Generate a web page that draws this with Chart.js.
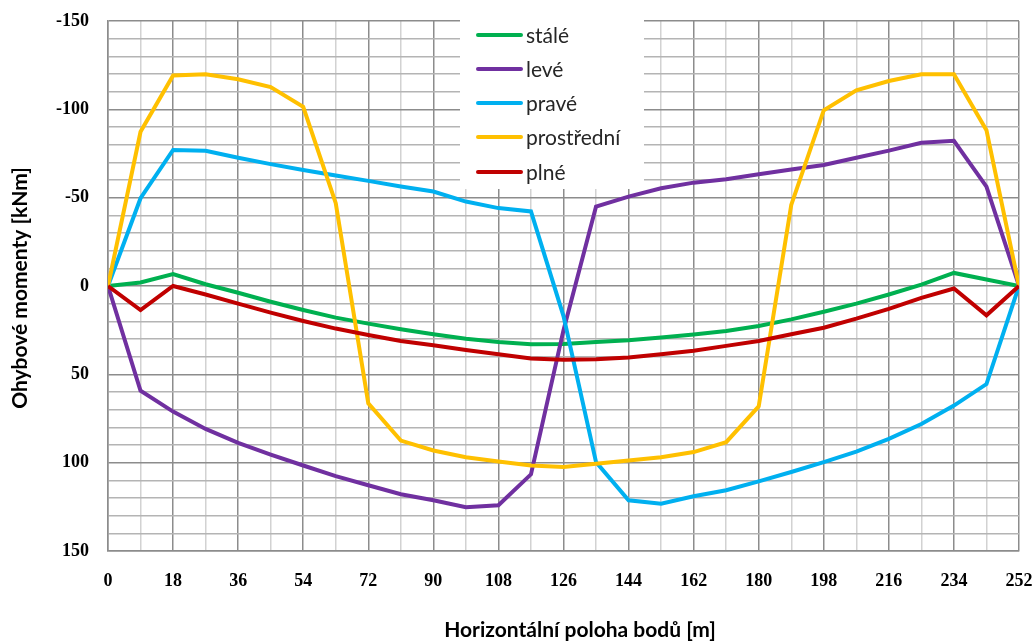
<!DOCTYPE html>
<html>
<head>
<meta charset="utf-8">
<script src="https://cdn.jsdelivr.net/npm/chart.js@4/dist/chart.umd.min.js"></script>
<style>
  html, body { margin: 0; padding: 0; background: #fff; }
  #wrap { width: 1034px; height: 641px; }
</style>
</head>
<body>
<div id="wrap"><canvas id="c" width="1034" height="641"></canvas></div>
<script>
// Horizontal position of evaluation points [m]
const positions = [0, 9, 18, 27, 36, 45, 54, 63, 72, 81, 90, 99, 108, 117, 126,
  135, 144, 153, 162, 171, 180, 189, 198, 207, 216, 225, 234, 243, 252];

// Bending moments [kNm] per load case
const stale = [0, -2, -6.7, -1, 3.8, 8.9, 13.6, 17.9, 21.3, 24.5, 27.3, 29.8, 31.7, 33, 32.8,
  31.7, 30.7, 29.2, 27.5, 25.5, 22.6, 18.9, 14.6, 10, 4.8, -0.8, -7.4, -3.7, 0];
const leve = [0, 59.3, 71.1, 80.9, 88.8, 95.4, 101.6, 107.6, 112.8, 117.9, 121.3, 125.2, 124.1, 106.6, 25,
  -45, -50.6, -55.3, -58.5, -60.4, -63.2, -66, -68.5, -72.6, -76.6, -81.1, -82.2, -56.3, 0];
const prave = [0, -49.7, -77, -76.6, -72.6, -69, -65.7, -62.5, -59.5, -56.3, -53.5, -47.8, -44.1, -42.2, 17,
  99.7, 121.3, 123.2, 119, 115.6, 110.6, 105.3, 99.7, 93.7, 86.5, 78.1, 67.7, 55.5, 0];
const prostredni = [0, -87.3, -119.2, -119.8, -117, -112.6, -101.4, -46.9, 66.4, 87.5, 93.1, 96.9, 99.3, 101.6, 102.5,
  100.6, 98.8, 96.9, 94, 88.4, 68.1, -45.9, -99.5, -110.8, -116, -119.8, -119.8, -88.2, 0];
const plne = [0, 13.6, 0, 4.8, 10, 15.1, 19.8, 24.1, 27.7, 31.1, 33.5, 36.2, 38.6, 41, 41.8,
  41.4, 40.5, 38.6, 36.7, 33.9, 31.1, 27.3, 23.6, 18.5, 12.9, 6.7, 1.4, 16.6, 0];

const seriesNames = ['stálé', 'levé', 'pravé', 'prostřední', 'plné'];
const seriesValues = [stale, leve, prave, prostredni, plne];
const seriesColors = ['#00B050', '#7030A0', '#00B0F0', '#FFC000', '#C00000'];

const xTitle = 'Horizontální poloha bodů [m]';
const yTitle = 'Ohybové momenty [kNm]';

const datasets = seriesValues.map((vals, i) => ({
  label: seriesNames[i],
  data: vals.map((v, k) => ({ x: positions[k], y: v })),
  borderColor: seriesColors[i],
  backgroundColor: seriesColors[i],
  borderWidth: 4,
  pointRadius: 0,
  tension: 0,
  fill: false,
  // later series are painted above earlier ones
  order: seriesValues.length - i
}));

// White legend panel inside the plot, drawn over the grid but under the lines
const legendPanel = {
  id: 'legendPanel',
  beforeDatasetsDraw(chart) {
    const ctx = chart.ctx;
    ctx.save();
    ctx.fillStyle = '#ffffff';
    ctx.fillRect(460, 10, 184, 179);
    ctx.font = '21px Lato, "Open Sans", sans-serif';
    ctx.textBaseline = 'middle';
    ctx.textAlign = 'left';
    const rowY = [35, 69, 103, 137, 172];
    seriesNames.forEach((name, i) => {
      ctx.strokeStyle = seriesColors[i];
      ctx.lineWidth = 4;
      ctx.lineCap = 'round';
      ctx.beginPath();
      ctx.moveTo(478, rowY[i]);
      ctx.lineTo(521, rowY[i]);
      ctx.stroke();
      ctx.fillStyle = '#262626';
      ctx.fillText(name, 526, rowY[i] + 1);
    });
    ctx.restore();
  }
};

// Axis titles
const axisTitles = {
  id: 'axisTitles',
  afterDraw(chart) {
    const ctx = chart.ctx;
    ctx.save();
    ctx.fillStyle = '#000';
    ctx.font = 'bold 21px Lato, "Open Sans", sans-serif';
    ctx.textAlign = 'center';
    ctx.textBaseline = 'middle';
    ctx.fillText(xTitle, 580, 630);
    ctx.translate(20, 288);
    ctx.rotate(-Math.PI / 2);
    ctx.fillText(yTitle, 0, 0);
    ctx.restore();
  }
};

const tickFont = { family: '"Liberation Serif", "Times New Roman", serif', size: 18, weight: 'bold' };

new Chart(document.getElementById('c'), {
  type: 'line',
  data: { datasets },
  plugins: [legendPanel, axisTitles],
  options: {
    responsive: false,
    animation: false,
    devicePixelRatio: 1,
    layout: { padding: { top: 21, right: 15, left: 0, bottom: 0 } },
    plugins: {
      legend: { display: false },
      tooltip: { enabled: false }
    },
    scales: {
      x: {
        type: 'linear',
        min: 0,
        max: 252,
        afterFit(scale) {
          scale.height = 90;
          scale.paddingLeft = 0;
          scale.paddingRight = 0;
        },
        ticks: {
          stepSize: 9,
          autoSkip: false,
          maxRotation: 0,
          padding: 20,
          color: '#000',
          font: tickFont,
          callback: v => (v % 18 === 0 ? String(v) : '')
        },
        grid: {
          drawTicks: false,
          lineWidth: 1.5,
          color: c => (c.tick && c.tick.value % 18 === 0 ? '#8c8c8c' : '#d2d2d2')
        },
        border: { color: '#8c8c8c', width: 1.5 }
      },
      y: {
        reverse: true,
        min: -150,
        max: 150,
        afterFit(scale) {
          scale.width = 108;
          scale.paddingTop = 0;
          scale.paddingBottom = 0;
        },
        ticks: {
          stepSize: 10,
          autoSkip: false,
          padding: 19,
          color: '#000',
          font: tickFont,
          callback: v => (v % 50 === 0 ? String(v) : '')
        },
        grid: {
          drawTicks: false,
          lineWidth: 1.5,
          color: c => (c.tick && c.tick.value % 50 === 0 ? '#8c8c8c' : '#b4b4b4')
        },
        border: { color: '#8c8c8c', width: 1.5 }
      }
    }
  }
});
</script>
</body>
</html>
